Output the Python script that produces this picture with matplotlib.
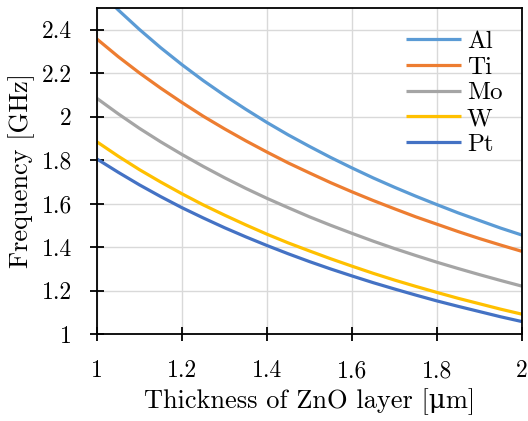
import matplotlib
matplotlib.use("Agg")
import matplotlib.pyplot as plt
from matplotlib.ticker import FuncFormatter, MultipleLocator

plt.rcParams['font.family'] = ['cmr10', 'DejaVu Serif']
plt.rcParams['axes.formatter.use_mathtext'] = True
plt.rcParams['mathtext.fontset'] = 'cm'

# ZnO thickness [um]
thickness = [1.00, 1.05, 1.10, 1.15, 1.20, 1.25, 1.30, 1.35, 1.40, 1.45, 1.50,
             1.55, 1.60, 1.65, 1.70, 1.75, 1.80, 1.85, 1.90, 1.95, 2.00]

# Resonance frequency [GHz] for each electrode metal
freq_al = [2.588, 2.491, 2.401, 2.317, 2.239, 2.166, 2.098, 2.034, 1.973, 1.916, 1.863,
           1.812, 1.764, 1.718, 1.675, 1.634, 1.595, 1.557, 1.522, 1.487, 1.455]
freq_ti = [2.357, 2.276, 2.201, 2.131, 2.065, 2.002, 1.944, 1.889, 1.837, 1.787, 1.741,
           1.696, 1.654, 1.614, 1.576, 1.539, 1.505, 1.471, 1.439, 1.409, 1.380]
freq_mo = [2.084, 2.013, 1.946, 1.884, 1.826, 1.771, 1.719, 1.670, 1.624, 1.581, 1.539,
           1.500, 1.463, 1.427, 1.393, 1.361, 1.330, 1.301, 1.273, 1.246, 1.220]
freq_w = [1.884, 1.818, 1.756, 1.699, 1.645, 1.594, 1.547, 1.502, 1.459, 1.419, 1.382,
          1.346, 1.312, 1.279, 1.248, 1.219, 1.191, 1.164, 1.139, 1.114, 1.091]
freq_pt = [1.805, 1.744, 1.686, 1.632, 1.581, 1.534, 1.489, 1.447, 1.407, 1.369, 1.333,
           1.299, 1.267, 1.236, 1.207, 1.179, 1.152, 1.127, 1.103, 1.079, 1.057]

metals = ["Al", "Ti", "Mo", "W", "Pt"]
colors = ["#5B9BD5", "#ED7D31", "#A5A5A5", "#FFC000", "#4472C4"]
series = [freq_al, freq_ti, freq_mo, freq_w, freq_pt]

fig = plt.figure(figsize=(5.28, 4.21), dpi=100)
ax = fig.add_axes([0.1837, 0.2067, 0.805, 0.7743])

for name, col, vals in zip(metals, colors, series):
    ax.plot(thickness, vals, color=col, lw=2.3, label=name, solid_capstyle='butt')

ax.set_xlim(1, 2)
ax.set_ylim(1, 2.5)
ax.xaxis.set_major_locator(MultipleLocator(0.2))
ax.yaxis.set_major_locator(MultipleLocator(0.2))
fmt = FuncFormatter(lambda v, p: "{:g}".format(round(v, 2)))
ax.xaxis.set_major_formatter(fmt)
ax.yaxis.set_major_formatter(fmt)

ax.grid(True, color="#D9D9D9", lw=1.0)
ax.set_axisbelow(True)
for s in ax.spines.values():
    s.set_color("black")
    s.set_linewidth(1.3)

ax.tick_params(direction='inout', length=10, width=1.3, labelsize=17)
ax.tick_params(axis='y', pad=13)
ax.tick_params(axis='x', pad=14)

ax.set_xlabel("Thickness of ZnO layer [μm]", fontsize=19, labelpad=4)
ax.set_ylabel("Frequency [GHz]", fontsize=19, labelpad=5)

leg = ax.legend(loc='upper right', frameon=False, fontsize=18, handlelength=2.2,
                handletextpad=0.25, labelspacing=0.13, borderaxespad=0.3,
                bbox_to_anchor=(0.995, 0.985))

fig.savefig("out.png", dpi=100)
